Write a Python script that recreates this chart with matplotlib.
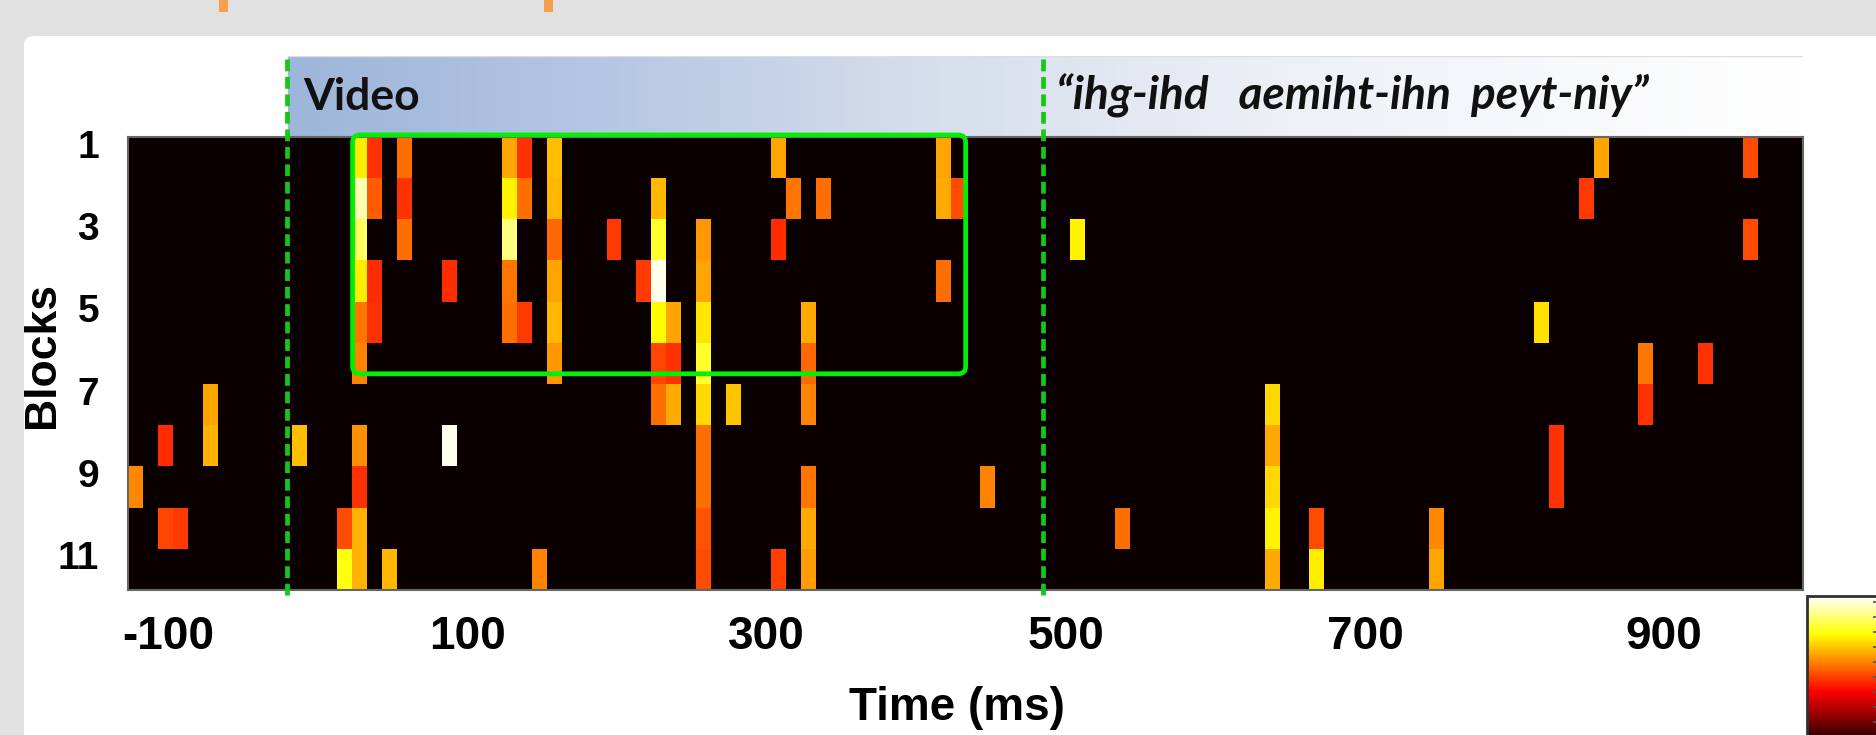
import numpy as np
import matplotlib
matplotlib.use("Agg")
import matplotlib.pyplot as plt
import matplotlib.transforms as mtransforms
from matplotlib.patches import FancyBboxPatch, Rectangle
from matplotlib.colors import LinearSegmentedColormap

# ---------------- data ----------------
n_blocks = 11
bin_ms = 10
first_bin_ms = -127
n_bins = 112
block_ticks = [1, 3, 5, 7, 9, 11]
time_ticks = [-100, 100, 300, 500, 700, 900]
video_onset_ms = -21
audio_onset_ms = 485
window_ms = [23, 433]
banner_video = "Video"
banner_audio = "\u201cihg-ihd   aemiht-ihn  peyt-niy\u201d"

cell_bin = [0, 2, 2, 3, 5, 5, 11, 14, 14,
            15, 15, 15, 15, 15, 15, 15, 15, 15, 15,
            16, 16, 16, 16, 17, 18, 18, 18, 21, 21,
            25, 25, 25, 25, 25, 26, 26, 26, 27,
            28, 28, 28, 28, 28, 28, 32, 34,
            35, 35, 35, 35, 35, 35, 36, 36, 36,
            38, 38, 38, 38, 38, 38, 38, 38, 38,
            40, 43, 43, 43, 44, 45, 45, 45, 45, 45, 45, 46,
            54, 54, 54, 55, 57, 63, 66,
            76, 76, 76, 76, 76, 79, 79, 87, 87,
            94, 95, 95, 97, 98, 101, 101, 105, 108, 108]
cell_block = [9, 8, 10, 10, 7, 8, 8, 10, 11,
              1, 2, 3, 4, 5, 6, 8, 9, 10, 11,
              1, 2, 4, 5, 11, 1, 2, 3, 4, 8,
              1, 2, 3, 4, 5, 1, 2, 5, 11,
              1, 2, 3, 4, 5, 6, 3, 4,
              2, 3, 4, 5, 6, 7, 5, 6, 7,
              3, 4, 5, 6, 7, 8, 9, 10, 11,
              7, 1, 3, 11, 2, 5, 6, 7, 9, 10, 11, 2,
              1, 2, 4, 2, 9, 3, 10,
              7, 8, 9, 10, 11, 10, 11, 10, 11,
              5, 8, 9, 2, 1, 6, 7, 6, 1, 3]
cell_value = [0.57, 0.43, 0.47, 0.45, 0.61, 0.63, 0.65, 0.48, 0.76,
              0.72, 0.92, 0.84, 0.72, 0.54, 0.56, 0.58, 0.44, 0.63, 0.63,
              0.44, 0.50, 0.43, 0.44, 0.64, 0.53, 0.44, 0.53, 0.43, 0.98,
              0.61, 0.73, 0.87, 0.54, 0.53, 0.44, 0.53, 0.45, 0.56,
              0.65, 0.64, 0.52, 0.61, 0.64, 0.59, 0.45, 0.45,
              0.64, 0.79, 0.98, 0.74, 0.47, 0.53, 0.61, 0.44, 0.62,
              0.59, 0.61, 0.71, 0.79, 0.69, 0.53, 0.53, 0.49, 0.48,
              0.66, 0.61, 0.43, 0.46, 0.54, 0.62, 0.52, 0.56, 0.54, 0.62, 0.60, 0.53,
              0.61, 0.62, 0.53, 0.48, 0.56, 0.73, 0.53,
              0.69, 0.62, 0.69, 0.73, 0.62, 0.48, 0.72, 0.57, 0.61,
              0.70, 0.44, 0.44, 0.45, 0.61, 0.54, 0.44, 0.44, 0.48, 0.48]
cbar_ticks = [0.06, 0.16, 0.26, 0.36, 0.46, 0.56, 0.66, 0.76, 0.86, 0.96]

# ---------------- figure ----------------
W, H, DPI = 1876, 735, 100
fig = plt.figure(figsize=(W / DPI, H / DPI), dpi=DPI, facecolor='#E1E1E1')
ident = mtransforms.IdentityTransform()


def fx(px):
    return px / W


def fy(py):
    return 1 - py / H


# slide panel and top tab marks
panel = FancyBboxPatch((24, -40), W + 60, H - 36 + 40,
                       boxstyle='round,pad=0,rounding_size=10',
                       transform=ident, fc='white', ec='none', zorder=-10)
fig.add_artist(panel)
for x0 in (219, 544):
    fig.add_artist(Rectangle((x0, H - 12), 9, 12, transform=ident,
                             fc='#F6A04D', ec='none', zorder=-9))

L, R, T, B = 128.3, 1803, 137, 590

# banner gradient
banner_cmap = LinearSegmentedColormap.from_list(
    'banner', [(0.0, '#9DB6D9'), (0.2, '#B4C6E2'), (0.42, '#D6DEEC'),
               (0.66, '#EDF0F6'), (0.85, '#F8F9FB'), (1.0, '#FFFFFF')])
bax = fig.add_axes([fx(288), fy(T), fx(R - 288), 81 / H], zorder=1)
bax.imshow(np.linspace(0, 1, 512)[None, :], cmap=banner_cmap, aspect='auto',
           extent=[0, 1, 0, 1])
bax.set_axis_off()
bax.axhline(1, color='#DADDE3', lw=1.0)

# heatmap
ax = fig.add_axes([fx(L), fy(B), fx(R - L), (B - T) / H], zorder=2)
Z = np.zeros((n_blocks, n_bins))
for b, blk, v in zip(cell_bin, cell_block, cell_value):
    Z[blk - 1, b] = v
t0 = first_bin_ms
t1 = first_bin_ms + n_bins * bin_ms
im = ax.imshow(Z, cmap='hot', vmin=0, vmax=1, aspect='auto',
               interpolation='nearest', extent=[t0, t1, n_blocks + 0.5, 0.5])
ax.set_xlim(t0, t1)
ax.set_ylim(n_blocks + 0.5, 0.5)

tick_font = dict(family='Liberation Sans', fontweight='bold')
ax.set_xticks(time_ticks)
ax.set_xticklabels([str(t) for t in time_ticks], fontsize=33, **tick_font)
ax.set_yticks(block_ticks)
ax.set_yticklabels([str(b) for b in block_ticks], fontsize=28, **tick_font)
ax.tick_params(axis='x', length=0, pad=18)
ax.tick_params(axis='y', length=0, pad=21)
offset = mtransforms.ScaledTranslation(0, 14 / DPI, fig.dpi_scale_trans)
for lab in ax.get_yticklabels():
    lab.set_transform(lab.get_transform() + offset)
for sp in ax.spines.values():
    sp.set_color('#666666')
    sp.set_linewidth(1.5)

ax.set_xlabel('Time (ms)', fontsize=33, **tick_font)
ax.xaxis.set_label_coords((957 - L) / (R - L), (B - 708) / (B - T))
ax.xaxis.label.set_va('center')
ax.set_ylabel('Blocks', fontsize=32, **tick_font)
ax.yaxis.set_label_coords((42 - L) / (R - L), (B - 355) / (B - T))
ax.yaxis.label.set_va('center')

# onset markers
for t in (video_onset_ms, audio_onset_ms):
    ax.axvline(t, ymin=(B - 595) / (B - T), ymax=(B - 56) / (B - T),
               color='#14C814', lw=3.4, linestyle=(0, (2.5, 1.2)),
               clip_on=False, zorder=5)

# analysis window
aspect = (1 / 41.18) / (1 / 1.495)
win = FancyBboxPatch((window_ms[0], 0.45), window_ms[1] - window_ms[0], 5.8,
                     boxstyle='round,pad=0,rounding_size=5', mutation_aspect=aspect,
                     ec='#00F000', fc='none', lw=3.4, clip_on=False, zorder=6)
ax.add_patch(win)

# banner texts
fig.text(fx(303), fy(110), banner_video, family='Lato', fontweight='bold',
         fontsize=32, va='baseline', ha='left', color='#111111', zorder=5)
fig.text(fx(1056), fy(110), banner_audio, family='Lato', fontweight='bold',
         style='italic', fontsize=33, va='baseline', ha='left', color='#111111',
         zorder=5)

# colorbar
cax = fig.add_axes([fx(1807), fy(746), fx(73), 150 / H], zorder=2)
cb = fig.colorbar(im, cax=cax)
cb.set_ticks(cbar_ticks)
cax.tick_params(axis='y', direction='in', length=5, width=1.2, colors='#555555',
                labelright=False, labelleft=False, right=True, left=False)
cb.outline.set_edgecolor('#303030')
cb.outline.set_linewidth(2)

fig.savefig('out.png', dpi=DPI, facecolor=fig.get_facecolor())
